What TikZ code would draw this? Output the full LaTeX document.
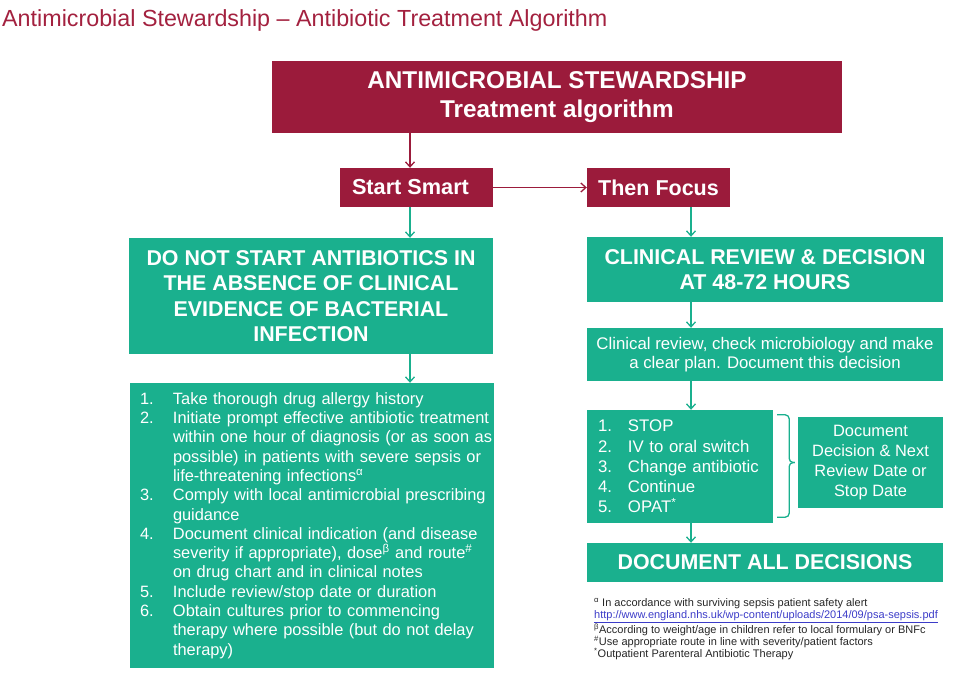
\documentclass[tikz,border=0pt]{standalone}
\usepackage{fontspec}
\setmainfont{Liberation Sans}
\usetikzlibrary{arrows.meta}
\definecolor{wine}{RGB}{155,27,59}
\definecolor{tealx}{RGB}{26,176,142}
\definecolor{titlered}{RGB}{163,33,63}
\definecolor{linkblue}{RGB}{60,60,200}
\newcommand{\lstitem}[4]{\hspace*{#1}\makebox[#2][l]{#3}\mbox{#4}}
\newcommand{\lstcont}[2]{\hspace*{#1}\mbox{#2}}
\begin{document}
\begin{tikzpicture}[x=1pt,y=-1pt,
  redbox/.style={fill=wine,text=white,inner sep=0pt,align=center},
  tealbox/.style={fill=tealx,text=white,inner sep=0pt,align=center},
  listbox/.style={fill=tealx,text=white,inner sep=0pt,align=left},
  redarrow/.style={draw=wine,line width=1.3pt,-{Straight Barb[length=5pt,width=9pt]}},
  tealarrow/.style={draw=tealx,line width=1.3pt,-{Straight Barb[length=5pt,width=9pt]}},
  bracketline/.style={draw=tealx,line width=1.3pt,rounded corners=4pt},
  headfont/.style={font=\fontsize{21.4}{25.5}\selectfont\bfseries}
]
\useasboundingbox (0,0) rectangle (961,673);

\node[anchor=west,text=titlered,inner sep=0pt,font=\fontsize{23.3}{27}\selectfont] (title) at (2,20)
  {Antimicrobial Stewardship -- Antibiotic Treatment Algorithm};

\node[redbox,minimum width=570pt,minimum height=72pt,font=\fontsize{24.3}{29}\selectfont\bfseries] (top) at (557,97)
  {ANTIMICROBIAL STEWARDSHIP\\Treatment algorithm};

\node[redbox,minimum width=153pt,minimum height=39pt,font=\fontsize{21.7}{25}\selectfont\bfseries] (ss) at (416.5,187.5) {Start Smart\hspace*{12pt}};
\node[redbox,minimum width=143pt,minimum height=39pt,font=\fontsize{21.5}{25}\selectfont\bfseries] (tf) at (658.5,187.5) {Then Focus};

\node[tealbox,headfont,minimum width=364pt,minimum height=116pt] (dn) at (311,296)
  {DO NOT START ANTIBIOTICS IN\\THE ABSENCE OF CLINICAL\\EVIDENCE OF BACTERIAL\\INFECTION};

\node[listbox,text width=364pt,minimum height=285pt,font=\fontsize{16.4}{19.3}\selectfont] (ll) at (312,525.5)
  {\lstitem{10pt}{33pt}{1.}{Take thorough drug allergy history}\\
   \lstitem{10pt}{33pt}{2.}{Initiate prompt effective antibiotic treatment}\\
   \lstcont{43pt}{within one hour of diagnosis (or as soon as}\\
   \lstcont{43pt}{possible) in patients with severe sepsis or}\\
   \lstcont{43pt}{life-threatening infections\textsuperscript{α}}\\
   \lstitem{10pt}{33pt}{3.}{Comply with local antimicrobial prescribing}\\
   \lstcont{43pt}{guidance}\\
   \lstitem{10pt}{33pt}{4.}{Document clinical indication (and disease}\\
   \lstcont{43pt}{severity if appropriate), dose\textsuperscript{β} and route\textsuperscript{\#}}\\
   \lstcont{43pt}{on drug chart and in clinical notes}\\
   \lstitem{10pt}{33pt}{5.}{Include review/stop date or duration}\\
   \lstitem{10pt}{33pt}{6.}{Obtain cultures prior to commencing}\\
   \lstcont{43pt}{therapy where possible (but do not delay}\\
   \lstcont{43pt}{therapy)}};

\node[tealbox,headfont,minimum width=356pt,minimum height=65pt] (cr) at (765,269.5)
  {CLINICAL REVIEW \& DECISION\\AT 48-72 HOURS};

\node[tealbox,minimum width=356pt,minimum height=53pt,font=\fontsize{16.8}{19.5}\selectfont] (rv) at (765,354.5)
  {Clinical review, check microbiology and make\\a clear plan. Document this decision};

\node[listbox,text width=186pt,minimum height=113pt,font=\fontsize{16.8}{20.25}\selectfont] (rl) at (680,466.5)
  {\lstitem{11pt}{30pt}{1.}{STOP}\\
   \lstitem{11pt}{30pt}{2.}{IV to oral switch}\\
   \lstitem{11pt}{30pt}{3.}{Change antibiotic}\\
   \lstitem{11pt}{30pt}{4.}{Continue}\\
   \lstitem{11pt}{30pt}{5.}{OPAT\textsuperscript{*}}};

\node[tealbox,minimum width=145pt,minimum height=91pt,font=\fontsize{16.4}{20}\selectfont] (dd) at (870.5,462.5)
  {Document\\Decision \& Next\\Review Date or\\Stop Date};

\node[tealbox,headfont,minimum width=356pt,minimum height=39pt] (da) at (765,562.5)
  {DOCUMENT ALL DECISIONS};

\node[anchor=north west,inner sep=0pt,align=left,text=black!85,font=\fontsize{11}{12.2}\selectfont] (fn) at (594,598)
  {\textsuperscript{α} In accordance with surviving sepsis patient safety alert\\
   \textcolor{linkblue}{\underline{http://www.england.nhs.uk/wp-content/uploads/2014/09/psa-sepsis.pdf}}\\
   \textsuperscript{β}According to weight/age in children refer to local formulary or BNFc\\
   \textsuperscript{\#}Use appropriate route in line with severity/patient factors\\
   \textsuperscript{*}Outpatient Parenteral Antibiotic Therapy};

\coordinate (lx) at (410,0);
\coordinate (rx) at (691,0);

\draw[redarrow] (top.south -| lx) -- (ss.north -| lx);
\draw[redarrow] (ss.east) -- (tf.west);
\draw[tealarrow] (ss.south -| lx) -- (dn.north -| lx);
\draw[tealarrow] (dn.south -| lx) -- (ll.north -| lx);
\draw[tealarrow] (tf.south -| rx) -- (cr.north -| rx);
\draw[tealarrow] (cr.south -| rx) -- (rv.north -| rx);
\draw[tealarrow] (rv.south -| rx) -- (rl.north -| rx);
\draw[tealarrow] (rl.south -| rx) -- (da.north -| rx);

\coordinate (bt) at ([xshift=4pt,yshift=-5pt]rl.north east);
\coordinate (bb) at ([xshift=4pt,yshift=6pt]rl.south east);
\coordinate (bm) at ([xshift=-3pt]dd.west);
\draw[bracketline] (bt) -- ++(12,0) |- (bm);
\draw[bracketline] (bb) -- ++(12,0) |- (bm);
\end{tikzpicture}
\end{document}
